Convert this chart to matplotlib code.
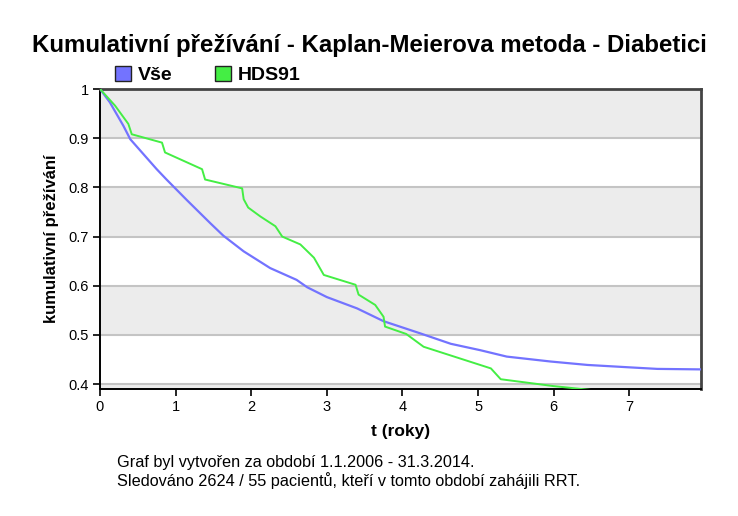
import matplotlib.pyplot as plt
from matplotlib.patches import Patch

# Kaplan-Meier curves (t in years, cumulative survival)
t_vse = [0, 0.13, 0.31, 0.40, 0.75, 0.88, 1.15, 1.46, 1.63, 1.90, 2.25, 2.60, 2.74,
         3.00, 3.40, 3.75, 4.24, 4.64, 5.03, 5.38, 5.96, 6.45, 7.02, 7.37, 7.95]
s_vse = [1.0, 0.973, 0.925, 0.898, 0.837, 0.816, 0.774, 0.727, 0.702, 0.670, 0.636, 0.612, 0.597,
         0.577, 0.554, 0.528, 0.503, 0.482, 0.469, 0.456, 0.446, 0.439, 0.434, 0.431, 0.430]

t_hds = [0, 0.20, 0.375, 0.42, 0.82, 0.86, 1.35, 1.39, 1.88, 1.90, 1.96, 2.12, 2.32, 2.41,
         2.65, 2.83, 2.96, 3.38, 3.42, 3.64, 3.75, 3.77, 4.05, 4.28, 5.17, 5.30, 6.00, 6.50]
s_hds = [1.0, 0.966, 0.929, 0.908, 0.891, 0.871, 0.837, 0.816, 0.798, 0.776, 0.759, 0.741, 0.721, 0.700,
         0.684, 0.657, 0.622, 0.602, 0.582, 0.561, 0.537, 0.517, 0.502, 0.476, 0.432, 0.410, 0.396, 0.388]

yticks = [0.4, 0.5, 0.6, 0.7, 0.8, 0.9, 1.0]
ytick_labels = ['0.4', '0.5', '0.6', '0.7', '0.8', '0.9', '1']
xticks = [0, 1, 2, 3, 4, 5, 6, 7]

blue = '#7373ff'
green = '#44ee44'

plt.rcParams['font.family'] = ['Liberation Sans', 'DejaVu Sans']

fig = plt.figure(figsize=(7.38, 5.16), dpi=100)
ax = fig.add_axes([0.1355, 0.246, 0.8145, 0.5815])

# alternating bands
for lo, hi in [(0.39, 0.4), (0.5, 0.6), (0.7, 0.8), (0.9, 1.0)]:
    ax.axhspan(lo, hi, color='#ececec', zorder=0, lw=0)
for y in yticks:
    ax.axhline(y, color='#c4c4c4', lw=1.5, zorder=1)

ax.plot(t_vse, s_vse, color=blue, lw=1.6, zorder=3)
ax.plot(t_hds, s_hds, color=green, lw=1.4, zorder=3)

ax.set_xlim(0, 7.95)
ax.set_ylim(0.39, 1.0)
ax.set_yticks(yticks)
ax.set_yticklabels(ytick_labels)
ax.set_xticks(xticks)
ax.tick_params(labelsize=10.5, length=5, width=1.2, direction='out', pad=3)

for side in ['left', 'bottom']:
    ax.spines[side].set_color('black')
    ax.spines[side].set_linewidth(1.4)
for side in ['top', 'right']:
    ax.spines[side].set_color('#444444')
    ax.spines[side].set_linewidth(2)

ax.set_xlabel('t (roky)', fontsize=12.5, fontweight='bold', labelpad=7)
ax.set_ylabel('kumulativní přežívání', fontsize=12, fontweight='bold', labelpad=7)

fig.text(0.5, 0.912, 'Kumulativní přežívání - Kaplan-Meierova metoda - Diabetici',
         ha='center', va='center', fontsize=17.3, fontweight='bold')

handles = [Patch(facecolor=blue, edgecolor='#222222', label='Vše'),
           Patch(facecolor=green, edgecolor='#222222', label='HDS91')]
fig.legend(handles=handles, loc='center left', bbox_to_anchor=(0.156, 0.855), ncol=2,
           frameon=False, handlelength=0.8, handleheight=0.8, handletextpad=0.36,
           columnspacing=2.2, borderpad=0, borderaxespad=0,
           prop={'weight': 'bold', 'size': 14})

fig.text(0.158, 0.104, 'Graf byl vytvořen za období 1.1.2006 - 31.3.2014.', fontsize=11.7, va='center')
fig.text(0.158, 0.068, 'Sledováno 2624 / 55 pacientů, kteří v tomto období zahájili RRT.', fontsize=11.7, va='center')

fig.savefig('out.png', dpi=100, facecolor='white')
